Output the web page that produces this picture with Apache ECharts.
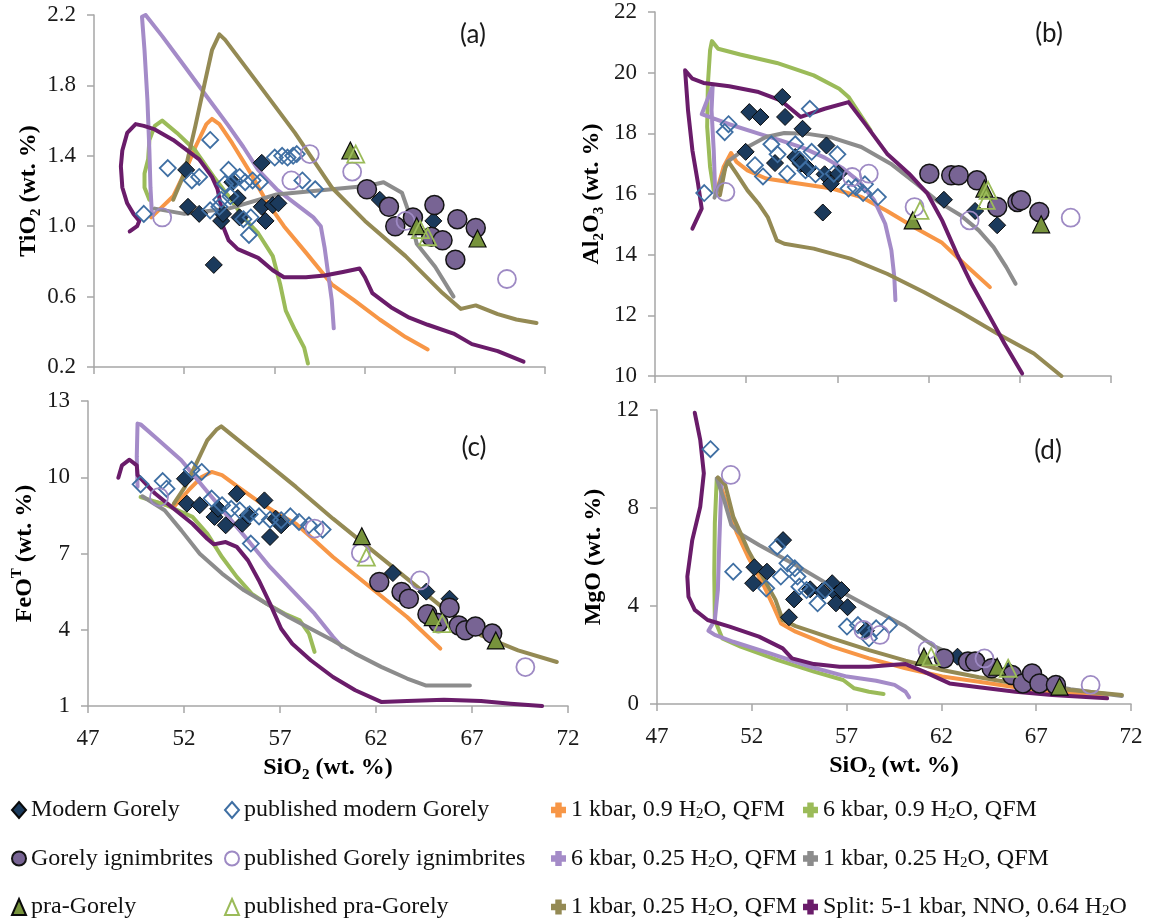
<!DOCTYPE html>
<html>
<head>
<meta charset="utf-8">
<title>Gorely major elements vs SiO2</title>
<script src="https://cdn.jsdelivr.net/npm/echarts@6/dist/echarts.min.js"></script>
<style>
  html, body { margin: 0; padding: 0; background: #ffffff; }
  #chart { width: 1151px; height: 923px; }
</style>
</head>
<body>
<div id="chart"></div>
<script>
// ---- tick values ----
const X_TICKS = [47, 52, 57, 62, 67, 72];
const TIO2_TICKS = [0.2, 0.6, 1.0, 1.4, 1.8, 2.2];
const AL2O3_TICKS = [10, 12, 14, 16, 18, 20, 22];
const FEO_TICKS = [1, 4, 7, 10, 13];
const MGO_TICKS = [0, 4, 8, 12];

// ---- series names ----
const N_MODERN = 'Modern Gorely';
const N_PUB_MODERN = 'published modern Gorely';
const N_IGN = 'Gorely ignimbrites';
const N_PUB_IGN = 'published Gorely ignimbrites';
const N_PRA = 'pra-Gorely';
const N_PUB_PRA = 'published pra-Gorely';
const N_1K09 = '1 kbar, 0.9 H2O, QFM';
const N_6K09 = '6 kbar, 0.9 H2O, QFM';
const N_6K025 = '6 kbar, 0.25 H2O, QFM';
const N_1K025 = '1 kbar, 0.25 H2O, QFM';
const N_1K025B = '1 kbar, 0.25 H2O, QFM ';   // second run with the same label
const N_SPLIT = 'Split: 5-1 kbar, NNO, 0.64 H2O';

// ---- (a) TiO2 vs SiO2 ----
const aModern = [[52.11,1.32],[52.21,1.11],[52.83,1.07],[54.05,1.03],[54.15,1.07],[55.07,1.05],[54.97,1.16],[54.67,1.25],[56.30,1.36],[56.30,1.11],[56.51,1.03],[56.91,1.12],[57.22,1.13],[53.64,0.78],[62.84,1.15],[65.81,1.03]];
const aPubModern = [[49.76,1.07],[51.09,1.33],[52.42,1.26],[52.83,1.28],[53.44,1.49],[54.46,1.32],[54.77,1.26],[55.07,1.28],[55.38,1.25],[55.79,1.26],[56.20,1.25],[54.26,1.24],[54.05,1.15],[53.44,1.09],[53.95,1.11],[55.28,1.04],[55.69,1.05],[55.59,0.95],[57.02,1.39],[57.43,1.40],[57.73,1.39],[58.04,1.40],[58.24,1.41],[58.55,1.26],[59.26,1.21],[54.56,1.17]];
const aIgn = [[62.13,1.21],[63.35,1.11],[63.70,1.00],[64.68,1.05],[65.70,0.94],[65.87,1.12],[66.32,0.92],[67.03,0.81],[67.14,1.04],[68.16,0.99]];
const aPubIgn = [[50.78,1.05],[57.94,1.26],[58.96,1.41],[61.31,1.31],[64.27,1.03],[69.89,0.70]];
const aPra = [[61.21,1.43],[64.89,1.00],[68.26,0.93]];
const aPubPra = [[61.51,1.41],[65.09,0.98],[65.50,0.94]];
const a1k09 = [[50.17,1.05],[50.78,1.11],[51.39,1.17],[52.01,1.30],[52.62,1.45],[53.23,1.58],[53.54,1.61],[53.95,1.58],[54.67,1.47],[55.69,1.30],[56.51,1.15],[57.53,1.00],[58.75,0.85],[60.18,0.67],[61.41,0.58],[62.84,0.47],[64.27,0.37],[65.50,0.30]];
const a6k09 = [[50.07,1.15],[49.80,1.22],[49.80,1.30],[50.00,1.38],[50.07,1.49],[50.37,1.57],[50.78,1.60],[51.60,1.53],[52.62,1.43],[53.64,1.28],[54.46,1.17],[55.28,1.05],[56.10,0.96],[56.91,0.83],[57.32,0.67],[57.63,0.52],[58.14,0.41],[58.65,0.31],[58.86,0.22]];
const a6k025 = [[50.21,1.07],[50.13,1.22],[50.07,1.43],[49.96,1.72],[49.80,2.00],[49.66,2.19],[49.86,2.20],[50.78,2.08],[52.01,1.91],[53.23,1.74],[54.46,1.57],[55.28,1.45],[56.10,1.32],[57.12,1.21],[58.14,1.13],[59.16,1.05],[59.57,1.00],[59.78,0.88],[59.98,0.73],[60.18,0.58],[60.29,0.42]];
const a1k025 = [[50.37,1.10],[52.01,1.07],[54.46,1.10],[57.12,1.18],[60.18,1.21],[62.23,1.23],[63.05,1.25],[64.07,1.19],[64.48,1.07],[64.89,0.90],[65.91,0.77],[66.93,0.60]];
const a1k025b = [[51.39,1.15],[52.01,1.30],[52.62,1.57],[53.13,1.81],[53.54,2.00],[53.95,2.09],[54.26,2.06],[56.10,1.81],[58.14,1.53],[60.18,1.22],[62.02,1.03],[64.27,0.83],[66.32,0.62],[67.34,0.53],[68.16,0.55],[69.38,0.50],[70.41,0.47],[71.53,0.45]];
const aSplit = [[48.98,0.97],[49.39,1.00],[49.51,1.03],[49.19,1.07],[48.84,1.13],[48.57,1.22],[48.49,1.34],[48.57,1.43],[48.84,1.53],[49.31,1.58],[49.76,1.57],[50.37,1.55],[51.39,1.49],[52.83,1.38],[53.54,1.28],[53.85,1.21],[54.05,1.11],[54.15,1.00],[54.46,0.92],[54.97,0.87],[56.10,0.82],[56.91,0.75],[57.53,0.71],[58.75,0.71],[59.78,0.72],[60.80,0.74],[61.72,0.76],[62.02,0.71],[62.43,0.62],[63.46,0.54],[64.48,0.48],[65.50,0.44],[66.93,0.39],[67.95,0.33],[69.38,0.29],[70.81,0.23]];

// ---- (b) Al2O3 vs SiO2 ----
const bModern = [[51.97,17.39],[52.17,18.70],[52.78,18.54],[53.98,19.20],[54.13,18.54],[55.09,18.15],[53.58,17.02],[54.69,17.22],[54.99,17.00],[55.39,16.84],[56.30,16.65],[56.40,17.60],[56.64,16.34],[57.06,16.67],[56.20,15.39],[62.84,15.81],[64.55,15.44],[65.76,14.97]];
const bPubModern = [[49.70,16.03],[50.82,18.04],[51.03,18.30],[55.49,18.81],[52.48,16.95],[52.92,16.58],[53.38,17.64],[53.72,17.31],[54.25,16.67],[54.69,17.64],[54.93,17.13],[55.25,16.78],[55.59,17.39],[55.80,16.65],[57.00,17.31],[56.80,16.67],[57.61,16.18],[58.01,16.23],[58.41,16.03],[58.51,16.32],[59.22,15.90]];
const bIgn = [[62.04,16.67],[63.24,16.62],[63.65,16.62],[64.65,16.45],[65.76,15.57],[66.87,15.74],[67.07,15.79],[68.07,15.41]];
const bPubIgn = [[50.86,16.07],[57.81,16.56],[58.72,16.67],[61.23,15.57],[64.25,15.13],[69.79,15.22]];
const bPra = [[61.13,15.13],[65.06,16.18],[68.17,15.00]];
const bPubPra = [[61.53,15.46],[65.26,16.12],[65.16,15.79]];
const b1k09 = [[50.36,16.03],[50.76,16.89],[51.17,17.35],[51.47,17.06],[52.07,16.78],[53.08,16.51],[54.69,16.36],[56.70,16.18],[58.31,15.90],[59.72,15.44],[61.33,14.86],[62.74,14.39],[63.95,13.70],[65.36,12.93]];
const b6k09 = [[50.22,16.12],[50.02,16.89],[49.86,18.21],[49.90,19.64],[50.02,20.74],[50.12,21.04],[50.46,20.79],[51.67,20.60],[53.68,20.32],[55.70,19.91],[57.10,19.47],[57.61,19.20],[58.21,18.65],[58.82,18.10]];
const b6k025 = [[50.30,16.03],[50.22,17.44],[50.10,18.76],[50.16,19.55],[49.56,18.63],[51.07,18.30],[52.68,17.99],[53.88,17.77],[55.09,17.53],[56.30,17.20],[57.31,16.84],[58.21,16.40],[59.02,15.79],[59.62,15.02],[59.96,14.14],[60.12,13.26],[60.18,12.50]];
const b1k025 = [[50.26,15.88],[50.97,17.06],[52.07,17.55],[53.08,17.88],[54.09,18.01],[55.29,17.99],[56.70,17.86],[58.31,17.55],[59.92,17.00],[61.33,16.34],[62.54,15.74],[63.75,15.30],[64.75,14.80],[65.56,14.25],[66.26,13.59],[66.77,13.04]];
const b1k025b = [[50.56,15.96],[50.86,16.89],[51.03,17.06],[51.47,16.67],[52.07,16.12],[52.68,15.68],[53.18,15.24],[53.68,14.47],[54.09,14.36],[55.70,14.20],[57.71,13.87],[59.72,13.37],[61.73,12.77],[63.75,12.11],[65.76,11.40],[67.77,10.74],[69.28,10.00]];
const bSplit = [[49.05,14.86],[49.56,15.52],[49.36,16.34],[49.05,17.44],[48.81,18.76],[48.65,20.08],[49.05,19.80],[49.66,19.66],[51.07,19.55],[52.68,19.36],[53.88,19.09],[54.99,18.54],[56.30,18.81],[57.61,19.03],[58.51,18.32],[59.72,17.33],[60.93,16.67],[61.94,16.01],[62.74,15.13],[63.55,14.03],[64.35,13.04],[65.36,11.95],[66.16,11.07],[67.13,10.08]];

// ---- (c) FeOT vs SiO2 ----
const cModern = [[52.05,9.94],[52.15,8.96],[52.82,8.90],[53.59,8.44],[53.78,8.76],[54.17,8.11],[54.75,9.35],[55.04,8.17],[55.33,8.50],[56.19,9.09],[56.48,7.65],[56.77,8.37],[57.06,8.11],[62.88,6.23],[64.62,5.50],[65.83,5.22]];
const cPubModern = [[49.74,9.72],[50.89,9.85],[51.09,9.55],[52.40,10.30],[52.92,10.21],[53.44,9.16],[53.98,8.90],[54.46,8.76],[54.90,8.70],[55.42,8.54],[55.91,8.46],[56.48,8.33],[57.06,8.31],[57.54,8.46],[57.99,8.24],[58.51,8.11],[59.22,7.94],[55.48,7.39]];
const cIgn = [[62.17,5.88],[63.33,5.49],[63.71,5.22],[64.68,4.61],[65.25,4.27],[65.83,4.87],[66.31,4.17],[66.66,3.98],[67.18,4.13],[68.05,3.85]];
const cPubIgn = [[50.70,9.22],[58.80,7.98],[61.21,7.02],[64.29,5.94],[69.78,2.53]];
const cPra = [[61.26,7.68],[64.96,4.50],[68.24,3.58]];
const cPubPra = [[61.50,6.86],[65.45,4.24]];
const c1k09 = [[50.51,9.03],[51.47,8.83],[52.24,9.49],[52.92,10.01],[53.44,10.21],[53.98,10.08],[54.94,9.55],[55.91,9.03],[56.87,8.57],[57.83,8.17],[58.80,7.52],[59.76,6.86],[61.69,5.68],[63.62,4.50],[65.35,3.26]];
const c6k09 = [[49.74,9.22],[51.09,8.90],[52.44,8.44],[53.21,7.78],[53.98,6.86],[54.75,6.08],[55.52,5.42],[56.29,5.03],[57.25,4.63],[58.03,4.37],[58.51,3.85],[58.80,3.13]];
const c6k025 = [[49.58,9.62],[49.54,10.80],[49.58,12.11],[49.74,12.08],[50.70,11.45],[51.86,10.67],[53.01,9.62],[54.17,8.57],[55.33,7.52],[56.48,6.47],[57.64,5.55],[58.80,4.63],[59.76,3.72],[60.24,3.32]];
const c1k025 = [[49.83,9.25],[50.99,8.70],[51.86,7.91],[52.82,6.99],[53.98,6.21],[55.13,5.55],[56.29,5.03],[57.45,4.50],[58.60,4.04],[59.76,3.58],[60.92,3.06],[62.27,2.54],[63.62,2.08],[64.58,1.81],[66.89,1.81]];
const c1k025b = [[51.47,8.96],[52.05,9.62],[52.63,10.53],[53.21,11.45],[53.69,11.87],[53.94,12.00],[55.91,10.80],[57.83,9.62],[59.76,8.37],[61.69,7.19],[63.62,6.01],[65.54,4.83],[67.47,3.78],[69.40,3.19],[71.42,2.73]];
const cSplit = [[48.58,9.98],[48.77,10.47],[49.16,10.69],[49.54,10.47],[49.58,10.08],[50.51,9.35],[51.47,8.76],[52.44,8.17],[53.21,7.58],[53.55,7.36],[54.17,7.45],[54.75,7.26],[55.33,6.73],[55.90,5.94],[56.48,5.03],[57.06,4.04],[57.64,3.45],[58.60,2.80],[59.76,2.14],[60.92,1.62],[62.27,1.16],[63.62,1.20],[65.54,1.25],[67.47,1.20],[69.01,1.09],[70.65,1.00]];

// ---- (d) MgO vs SiO2 ----
const dModern = [[52.14,5.58],[52.07,4.93],[52.80,5.40],[53.65,6.69],[54.23,4.27],[53.96,3.54],[55.08,4.68],[55.70,4.59],[56.24,4.93],[56.47,4.49],[56.73,4.65],[56.44,4.11],[57.05,3.95],[58.02,2.99],[62.85,1.93],[65.56,1.36]];
const dPubModern = [[49.82,10.40],[51.02,5.40],[53.34,6.42],[53.88,5.74],[54.27,5.54],[53.53,5.20],[54.41,5.20],[52.76,4.72],[54.51,4.79],[54.89,4.65],[55.47,4.11],[55.86,4.65],[57.02,3.16],[57.60,3.22],[58.18,2.68],[58.56,3.09],[59.24,3.22]];
const dIgn = [[62.14,1.86],[63.40,1.73],[63.78,1.73],[64.65,1.46],[65.72,1.18],[66.30,0.84],[66.78,1.25],[67.17,0.84],[68.04,0.78]];
const dPubIgn = [[50.89,9.35],[57.89,3.02],[58.76,2.82],[61.27,2.20],[64.27,1.86],[69.87,0.78]];
const dPra = [[61.08,1.93],[64.94,1.52],[68.23,0.71]];
const dPubPra = [[61.46,1.93],[65.52,1.46]];
const d1k09 = [[50.29,9.08],[50.73,8.05],[51.22,6.97],[51.80,6.01],[52.57,4.93],[53.15,3.97],[53.54,3.29],[54.31,2.95],[56.24,2.34],[58.18,1.86],[60.11,1.46],[62.04,1.12],[63.98,0.91],[65.91,0.68],[67.84,0.50],[70.74,0.37]];
const d6k09 = [[50.15,9.17],[50.05,7.37],[50.02,5.33],[50.05,3.43],[50.44,2.68],[51.41,2.34],[53.34,1.80],[55.28,1.32],[56.82,0.98],[57.40,0.64],[58.18,0.50],[58.95,0.41]];
const d6k025 = [[50.40,9.01],[50.29,6.69],[50.21,4.65],[50.05,3.43],[49.71,2.99],[50.05,2.82],[51.02,2.54],[52.96,2.07],[55.08,1.52],[57.02,1.12],[58.56,0.95],[59.53,0.78],[60.11,0.50],[60.30,0.27]];
const d1k025 = [[50.15,9.21],[50.54,8.33],[50.92,7.31],[51.41,6.94],[52.38,6.49],[54.31,5.67],[56.24,4.79],[58.18,3.97],[60.11,3.16],[61.66,2.34],[63.01,1.86],[64.94,1.32],[66.88,0.91],[68.81,0.60],[71.52,0.33]];
const d1k025b = [[50.21,9.25],[50.60,8.94],[51.02,7.65],[51.80,6.29],[52.57,5.20],[53.25,4.25],[53.63,3.43],[54.31,3.18],[56.24,2.68],[58.18,2.20],[60.11,1.77],[62.04,1.39],[63.98,1.09],[65.91,0.84],[68.81,0.57],[71.52,0.37]];
const dSplit = [[48.99,11.89],[49.28,10.78],[49.47,9.42],[49.28,8.05],[48.86,6.69],[48.60,5.20],[48.66,4.38],[48.99,3.84],[49.67,3.43],[50.83,3.16],[52.38,2.75],[53.63,2.27],[54.12,1.86],[55.28,1.63],[56.63,1.52],[58.18,1.52],[59.34,1.59],[60.11,1.63],[61.08,1.32],[62.43,0.84],[63.98,0.68],[65.91,0.50],[67.84,0.37],[70.74,0.23]];

// ---- styling ----
const SERIF = "Liberation Serif, DejaVu Serif, serif";
const AXIS_GRAY = '#A6A6A6';
const C = {
  modern: '#1B3A5C', pubModern: '#3F6FA3',
  ign: '#786494', pubIgn: '#9E8AC4',
  pra: '#77933C', pubPra: '#9BBB59',
  l1k09: '#F79646', l6k09: '#9BBB59', l6k025: '#A48BC8',
  l1k025: '#8C8C8C', l1k025b: '#948A54', split: '#6A1C6A'
};
const PLUS = 'path://M4,0H10V4H14V10H10V14H4V10H0V4H4Z';

const panels = [
  { grid: { left: 94, top: 15, width: 451, height: 352 }, ticks: TIO2_TICKS, min: 0.2, max: 2.2,
    yName: '{b|TiO}{s|2}{b| (wt. %)}', dec: 1, xLabels: false, tag: '(a)', tagPos: [473, 35],
    d: [aModern, aPubModern, a1k09, a6k09, aIgn, aPubIgn, a6k025, a1k025, aPra, aPubPra, a1k025b, aSplit] },
  { grid: { left: 655, top: 12, width: 456, height: 364 }, ticks: AL2O3_TICKS, min: 10, max: 22,
    yName: '{b|Al}{s|2}{b|O}{s|3}{b| (wt. %)}', dec: 0, xLabels: false, tag: '(b)', tagPos: [1049, 34],
    d: [bModern, bPubModern, b1k09, b6k09, bIgn, bPubIgn, b6k025, b1k025, bPra, bPubPra, b1k025b, bSplit] },
  { grid: { left: 88, top: 401, width: 480, height: 305 }, ticks: FEO_TICKS, min: 1, max: 13,
    yName: '{b|FeO}{u|T}{b| (wt. %)}', dec: 0, xLabels: true, tag: '(c)', tagPos: [474, 448],
    d: [cModern, cPubModern, c1k09, c6k09, cIgn, cPubIgn, c6k025, c1k025, cPra, cPubPra, c1k025b, cSplit] },
  { grid: { left: 657, top: 410, width: 474, height: 294 }, ticks: MGO_TICKS, min: 0, max: 12,
    yName: '{b|MgO (wt. %)}', dec: 0, xLabels: true, tag: '(d)', tagPos: [1048, 451],
    d: [dModern, dPubModern, d1k09, d6k09, dIgn, dPubIgn, d6k025, d1k025, dPra, dPubPra, d1k025b, dSplit] }
];

const nameRich = {
  b: { fontFamily: SERIF, fontWeight: 'bold', fontSize: 24, color: '#000', lineHeight: 30, verticalAlign: 'middle' },
  s: { fontFamily: SERIF, fontWeight: 'bold', fontSize: 15, color: '#000', lineHeight: 15, verticalAlign: 'bottom' },
  u: { fontFamily: SERIF, fontWeight: 'bold', fontSize: 15, color: '#000', lineHeight: 15, verticalAlign: 'top' }
};

// series kinds, in drawing order
const kinds = [
  { name: N_MODERN, type: 'scatter', symbol: 'diamond', size: 17, fill: C.modern, border: '#0a0a0a', bw: 1 },
  { name: N_PUB_MODERN, type: 'scatter', symbol: 'diamond', size: 16, fill: 'rgba(255,255,255,0)', border: C.pubModern, bw: 1.8 },
  { name: N_1K09, type: 'line', color: C.l1k09 },
  { name: N_6K09, type: 'line', color: C.l6k09 },
  { name: N_IGN, type: 'scatter', symbol: 'circle', size: 19, fill: C.ign, border: '#141414', bw: 1.5 },
  { name: N_PUB_IGN, type: 'scatter', symbol: 'circle', size: 18, fill: 'rgba(255,255,255,0)', border: C.pubIgn, bw: 1.8 },
  { name: N_6K025, type: 'line', color: C.l6k025 },
  { name: N_1K025, type: 'line', color: C.l1k025 },
  { name: N_PRA, type: 'scatter', symbol: 'triangle', size: 17, fill: C.pra, border: '#0a0a0a', bw: 1.2 },
  { name: N_PUB_PRA, type: 'scatter', symbol: 'triangle', size: 17, fill: 'rgba(255,255,255,0)', border: C.pubPra, bw: 1.8 },
  { name: N_1K025B, type: 'line', color: C.l1k025b },
  { name: N_SPLIT, type: 'line', color: C.split }
];

const grids = [], xAxes = [], yAxes = [], series = [], graphics = [];
panels.forEach((p, i) => {
  grids.push(Object.assign({ containLabel: false }, p.grid));
  xAxes.push({
    type: 'value', gridIndex: i, min: 47, max: 72,
    axisLine: { onZero: false, lineStyle: { color: AXIS_GRAY, width: 1.5 } },
    axisTick: { show: true, length: 7, customValues: X_TICKS, lineStyle: { color: AXIS_GRAY, width: 1.5 } },
    axisLabel: { show: p.xLabels, customValues: X_TICKS, margin: 21,
                 fontFamily: SERIF, fontSize: 23, color: '#1a1a1a' },
    splitLine: { show: false },
    name: p.xLabels ? '{b|SiO}{s|2}{b| (wt. %)}' : '',
    nameLocation: 'middle', nameGap: 47,
    nameTextStyle: { rich: nameRich }
  });
  yAxes.push({
    type: 'value', gridIndex: i, min: p.min, max: p.max,
    axisLine: { show: true, onZero: false, lineStyle: { color: AXIS_GRAY, width: 1.5 } },
    axisTick: { show: true, length: 7, customValues: p.ticks, lineStyle: { color: AXIS_GRAY, width: 1.5 } },
    axisLabel: { customValues: p.ticks, margin: 18, fontFamily: SERIF, fontSize: 23, color: '#1a1a1a',
                 formatter: v => Number(v).toFixed(p.dec) },
    splitLine: { show: false },
    name: p.yName, nameLocation: 'middle', nameRotate: 90, nameGap: 48,
    nameTextStyle: { rich: nameRich }
  });
  kinds.forEach((k, j) => {
    const base = { name: k.name, xAxisIndex: i, yAxisIndex: i, data: p.d[j], animation: false, silent: true };
    if (k.type === 'scatter') {
      series.push(Object.assign(base, {
        type: 'scatter', symbol: k.symbol, symbolSize: k.size, z: 4,
        itemStyle: { color: k.fill, borderColor: k.border, borderWidth: k.bw, opacity: 1 }
      }));
    } else {
      series.push(Object.assign(base, {
        type: 'line', symbol: 'none', showSymbol: false, z: 2, clip: true,
        lineStyle: { color: k.color, width: 4, cap: 'round', join: 'round' },
        itemStyle: { color: k.color }
      }));
    }
  });
  graphics.push({
    type: 'text', x: p.tagPos[0], y: p.tagPos[1],
    style: { text: p.tag, font: "26px Lato, 'Open Sans', sans-serif", fill: '#1a1a1a', textAlign: 'center', textVerticalAlign: 'middle' }
  });
});

// legend text: subscripted water formula
function legendLabel(name) {
  const parts = name.trim().split('H2O');
  return parts.map(s => '{t|' + s + '}').join('{t|H}{s|2}{t|O}');
}
const legendRich = {
  t: { fontFamily: SERIF, fontSize: 24, color: '#111', lineHeight: 24, verticalAlign: 'middle' },
  s: { fontFamily: SERIF, fontSize: 15, color: '#111', lineHeight: 12, verticalAlign: 'bottom' }
};
function legendCol(left, names, isLine) {
  return {
    orient: 'vertical', left: left, top: 798, height: 140, padding: 0, itemGap: 24.5,
    itemWidth: isLine ? 15 : 14, itemHeight: isLine ? 15 : 16, selectedMode: false,
    data: names.map(n => isLine ? { name: n, icon: PLUS } : { name: n }),
    formatter: legendLabel,
    textStyle: { fontFamily: SERIF, fontSize: 24, color: '#111', rich: legendRich }
  };
}

const chart = echarts.init(document.getElementById('chart'), null, { renderer: 'canvas' });
chart.setOption({
  backgroundColor: '#ffffff',
  animation: false,
  textStyle: { fontFamily: SERIF },
  grid: grids,
  xAxis: xAxes,
  yAxis: yAxes,
  series: series,
  graphic: graphics,
  legend: [
    legendCol(11, [N_MODERN, N_IGN, N_PRA], false),
    legendCol(224, [N_PUB_MODERN, N_PUB_IGN, N_PUB_PRA], false),
    legendCol(551, [N_1K09, N_6K025, N_1K025B], true),
    legendCol(803, [N_6K09, N_1K025, N_SPLIT], true)
  ]
});
</script>
</body>
</html>
